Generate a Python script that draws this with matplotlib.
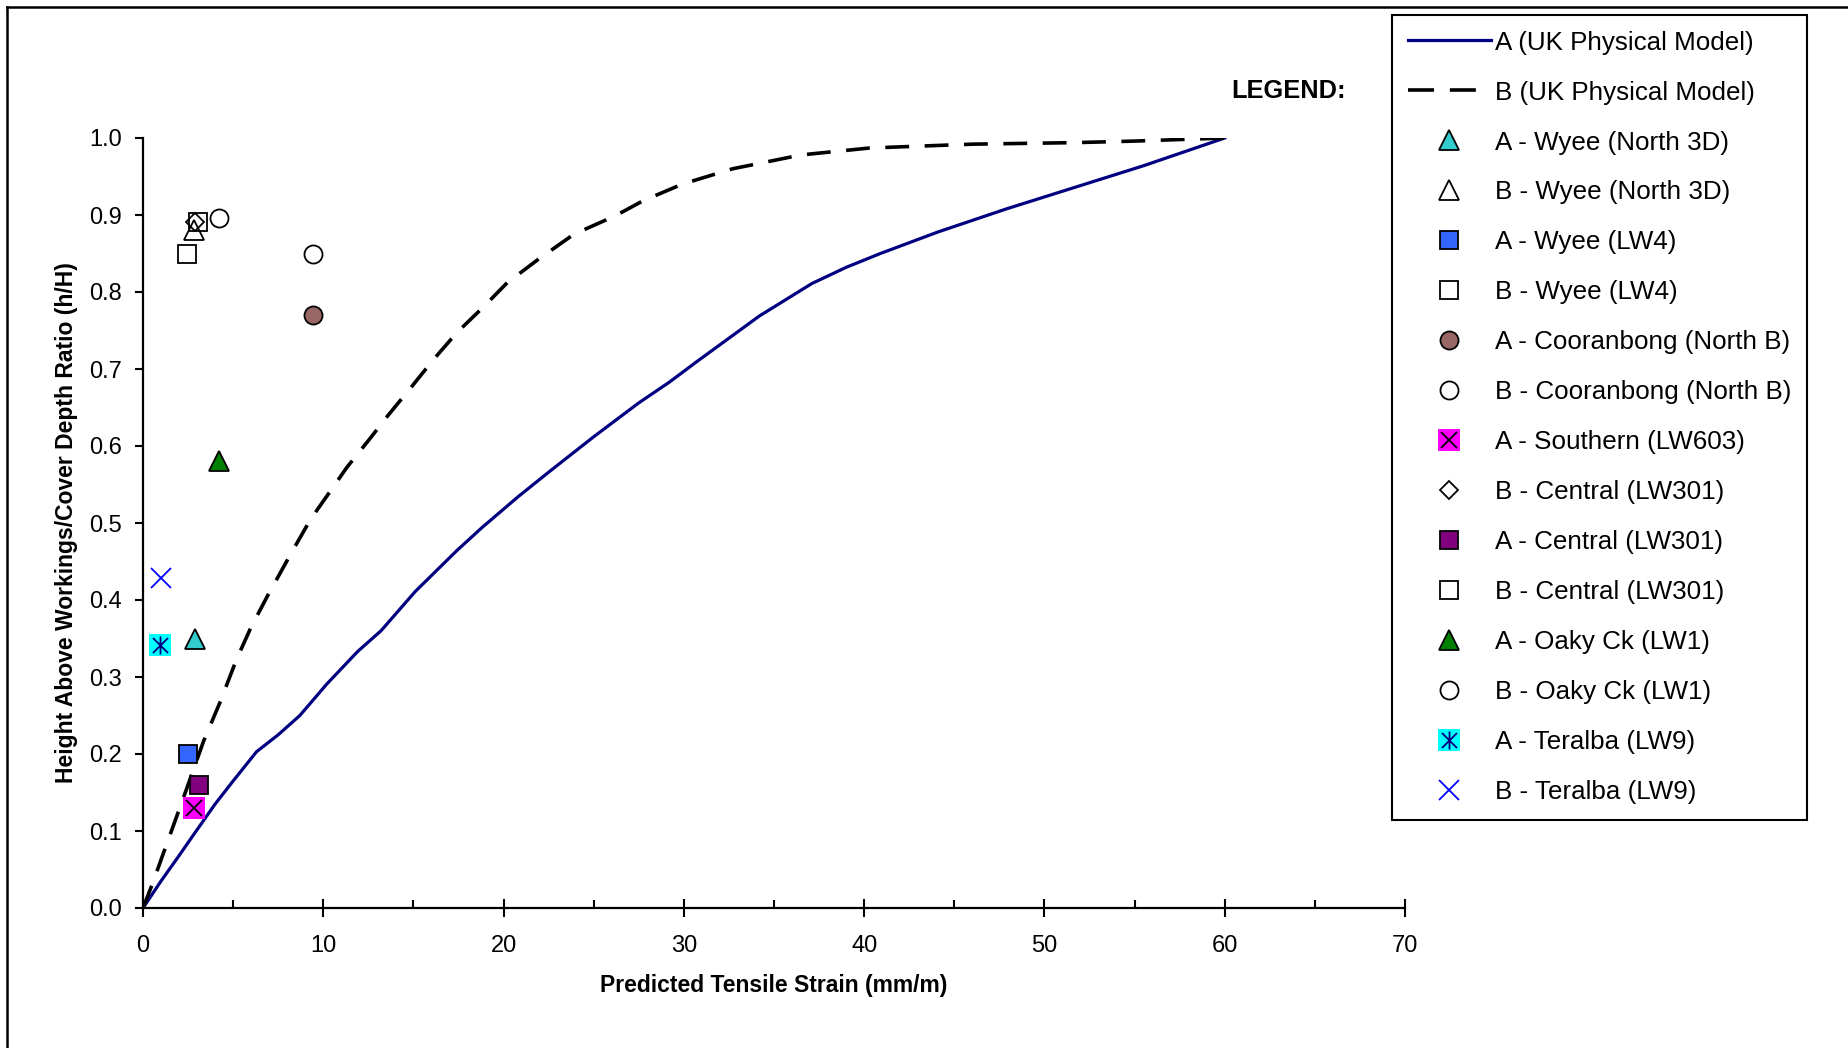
import matplotlib
matplotlib.use('Agg')
import matplotlib.pyplot as plt
from matplotlib.lines import Line2D
from matplotlib.path import Path
from matplotlib.ticker import MultipleLocator, FormatStrFormatter

plt.rcParams['font.family'] = ['Liberation Sans', 'DejaVu Sans']

# UK physical model curves: predicted tensile strain (mm/m) vs h/H
strain_a = [0, 1, 2, 2.8, 4, 5, 6.3, 7.5, 8.7, 10.2, 11.9, 13.2, 15.1, 17.4, 18.8,
            20.8, 22.5, 25, 27.5, 29.2, 30.8, 32.5, 34.2, 37.1, 39, 40.9, 44.1, 47.9,
            51.7, 55.5, 60]
ratio_a = [0, 0.035, 0.068, 0.095, 0.135, 0.165, 0.203, 0.225, 0.25, 0.291, 0.333,
           0.36, 0.411, 0.464, 0.494, 0.534, 0.566, 0.612, 0.656, 0.683, 0.711, 0.74,
           0.769, 0.811, 0.832, 0.85, 0.878, 0.908, 0.936, 0.964, 1.0]

strain_b = [0, 0.5, 1.5, 2.5, 3.35, 4.27, 5.19, 6, 6.9, 8.2, 9.3, 10.35, 11.3, 12.5,
            13.6, 14.9, 16.1, 17.4, 18.9, 20.2, 21.9, 23.9, 26.2, 27.7, 29.9, 32.7,
            36.5, 40.3, 46, 51.7, 55, 60]
ratio_b = [0, 0.03, 0.095, 0.16, 0.216, 0.267, 0.323, 0.365, 0.405, 0.46, 0.505, 0.54,
           0.572, 0.607, 0.64, 0.677, 0.712, 0.747, 0.781, 0.812, 0.842, 0.875, 0.899,
           0.918, 0.94, 0.96, 0.978, 0.987, 0.992, 0.994, 0.996, 1.0]

# case histories
case_labels = ['A - Wyee (North 3D)', 'B - Wyee (North 3D)', 'A - Wyee (LW4)',
               'B - Wyee (LW4)', 'A - Cooranbong (North B)', 'B - Cooranbong (North B)',
               'A - Southern (LW603)', 'B - Central (LW301)', 'A - Central (LW301)',
               'B - Central (LW301)', 'A - Oaky Ck (LW1)', 'B - Oaky Ck (LW1)',
               'A - Teralba (LW9)', 'B - Teralba (LW9)']
case_strain = [2.9, 2.85, 2.5, 2.46, 9.45, 9.45, 2.85, 2.89, 3.1, 3.07, 4.2, 4.2, 0.97, 1.0]
case_ratio = [0.35, 0.88, 0.20, 0.85, 0.77, 0.85, 0.13, 0.891, 0.16, 0.891, 0.58, 0.896,
              0.341, 0.429]

# x + vertical bar, like the spreadsheet "star" marker
asterisk = Path([(-1, -1), (1, 1), (-1, 1), (1, -1), (0, -1.2), (0, 1.2)],
                [Path.MOVETO, Path.LINETO, Path.MOVETO, Path.LINETO, Path.MOVETO, Path.LINETO])

styles = [
    [dict(marker='^', ms=14, mfc='#33CCCC', mec='black')],
    [dict(marker='^', ms=14, mfc='none', mec='black')],
    [dict(marker='s', ms=13, mfc='#3366FF', mec='black')],
    [dict(marker='s', ms=13, mfc='none', mec='black')],
    [dict(marker='o', ms=13, mfc='#996666', mec='black')],
    [dict(marker='o', ms=13, mfc='none', mec='black')],
    [dict(marker='s', ms=16, mfc='#FF00FF', mec='none'), dict(marker='x', ms=12, mec='black')],
    [dict(marker='D', ms=9.5, mfc='none', mec='black')],
    [dict(marker='s', ms=13, mfc='#800080', mec='black')],
    [dict(marker='s', ms=13, mfc='none', mec='black')],
    [dict(marker='^', ms=14.5, mfc='#008000', mec='black')],
    [dict(marker='o', ms=13, mfc='none', mec='black')],
    [dict(marker='s', ms=16, mfc='#00FFFF', mec='none'),
     dict(marker=asterisk, ms=13, mfc='none', mec='#000080')],
    [dict(marker='x', ms=15, mec='#0000FF')],
]

fig = plt.figure(figsize=(18.48, 10.48), dpi=100)
ax = fig.add_axes([143 / 1848, 1 - 908 / 1048, 1262 / 1848, 770 / 1048])

line_a, = ax.plot(strain_a, ratio_a, color='#000080', lw=2.3, solid_joinstyle='round')
line_b, = ax.plot(strain_b, ratio_b, color='black', lw=2.6, dashes=(6.6, 4.3))

# legend sample for the dashed curve: two full dashes
key_b = Line2D([], [], color='black', lw=2.6, dashes=(7.2, 4.4))

handles = [line_a, key_b]
labels = ['A (UK Physical Model)', 'B (UK Physical Model)']
for lab, x, y, layers in zip(case_labels, case_strain, case_ratio, styles):
    arts = []
    for st in layers:
        a, = ax.plot([x], [y], linestyle='none', mew=1.3, zorder=4, clip_on=False, **st)
        arts.append(a)
    handles.append(tuple(arts) if len(arts) > 1 else arts[0])
    labels.append(lab)

ax.set_xlim(0, 70)
ax.set_ylim(0, 1.0)
ax.spines['top'].set_visible(False)
ax.spines['right'].set_visible(False)
for s in ('left', 'bottom'):
    ax.spines[s].set_linewidth(1.6)

ax.xaxis.set_major_locator(MultipleLocator(10))
ax.xaxis.set_minor_locator(MultipleLocator(5))
ax.yaxis.set_major_locator(MultipleLocator(0.1))
ax.yaxis.set_major_formatter(FormatStrFormatter('%.1f'))
ax.tick_params(axis='x', which='major', direction='inout', length=13, width=1.5,
               labelsize=17, pad=13)
ax.tick_params(axis='x', which='minor', direction='in', length=6, width=1.5)
ax.tick_params(axis='y', which='major', direction='out', length=6, width=1.5,
               labelsize=17, pad=9)

ax.set_xlabel('Predicted Tensile Strain (mm/m)', fontsize=16.5, fontweight='bold', labelpad=12)
ax.set_ylabel('Height Above Workings/Cover Depth Ratio (h/H)', fontsize=16.5,
              fontweight='bold', labelpad=8)

fig.text(1231 / 1848, 1 - 91 / 1048, 'LEGEND:', fontsize=18.3, fontweight='bold',
         ha='left', va='center')

leg = fig.legend(handles, labels, loc='upper left',
                 bbox_to_anchor=(1392 / 1848, 1 - 15 / 1048), bbox_transform=fig.transFigure,
                 borderaxespad=0, fancybox=False, edgecolor='black', framealpha=1,
                 fontsize=18.7, handlelength=3.2, handletextpad=0.15, labelspacing=1.0,
                 borderpad=0.6, numpoints=1)
leg.get_frame().set_linewidth(1.5)

# outer border of the sheet
fig.add_artist(Line2D([7 / 1848, 1.0], [1 - 7 / 1048, 1 - 7 / 1048],
                      transform=fig.transFigure, color='black', lw=1.8))
fig.add_artist(Line2D([7 / 1848, 7 / 1848], [0, 1 - 7 / 1048],
                      transform=fig.transFigure, color='black', lw=1.8))

fig.savefig('out.png', dpi=100)
